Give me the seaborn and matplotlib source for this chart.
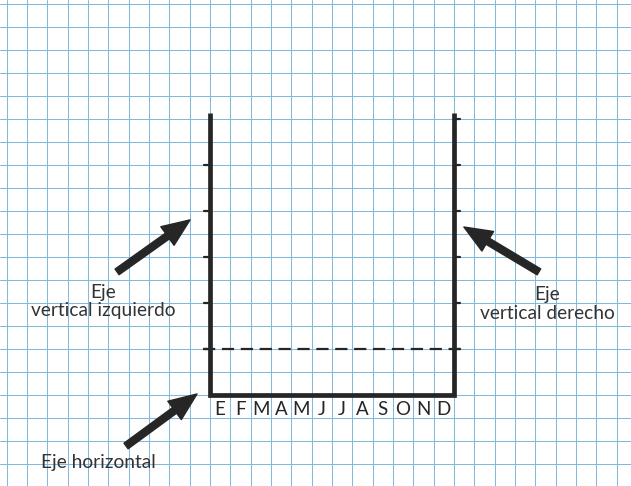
import numpy as np
import pandas as pd
import matplotlib
matplotlib.use('Agg')
import matplotlib.pyplot as plt
import seaborn as sns

# Datos de la plantilla del climograma (en unidades de cuadrícula)
months = ['E', 'F', 'M', 'A', 'M', 'J', 'J', 'A', 'S', 'O', 'N', 'D']
left_ticks = [2, 4, 6, 8, 10]
right_ticks = [2, 4, 6, 8, 10, 12]
axis_top = 12.25
dashed_level = 2

label_texts = ['Eje\nvertical izquierdo', 'Eje horizontal', 'Eje\nvertical derecho']
label_pos = [(-5.26, 4.05), (-5.51, -2.96), (16.58, 3.95)]
arrow_tails = [(-4.57, 5.35), (-4.13, -2.22), (16.18, 5.35)]
arrow_tips = [(-0.98, 7.61), (-0.64, 0.04), (12.49, 7.30)]

sns.set_style('white')
plt.rcParams['font.family'] = ['Lato', 'DejaVu Sans']

fig = plt.figure(figsize=(6.31, 4.86), dpi=100)
ax = fig.add_axes([0, 0, 1, 1])

# papel cuadriculado
ax.set_xlim(-10.33, 20.71)
ax.set_ylim(-3.96, 17.17)
ax.set_xticks(np.arange(-10, 21))
ax.set_yticks(np.arange(-3, 18))
ax.grid(True, color='#84b9dc', lw=0.75)
ax.set_axisbelow(True)
ax.tick_params(length=0, labelbottom=False, labelleft=False)
for s in ax.spines.values():
    s.set_visible(False)

ink = '#262626'

# ejes del climograma
n = len(months)
ax.plot([0, 0, n, n], [axis_top, 0, 0, axis_top], color=ink, lw=3.4,
        solid_joinstyle='miter', solid_capstyle='butt', zorder=3)
for t in left_ticks:
    ax.plot([-0.3, 0], [t, t], color=ink, lw=1.6, zorder=3)
for t in right_ticks:
    ax.plot([n, n + 0.3], [t, t], color=ink, lw=1.6, zorder=3)

# línea discontinua
dash = pd.DataFrame({'x': [-0.34, n + 0.4], 'y': [dashed_level, dashed_level]})
sns.lineplot(data=dash, x='x', y='y', ax=ax, color=ink, lw=1.6,
             dashes=False, zorder=3)
ax.lines[-1].set_dashes([5.5, 3])

# meses
for i, m in enumerate(months):
    ax.text(i + 0.5, -0.65, m, ha='center', va='center', fontsize=13.5, color=ink)

# etiquetas y flechas
for txt, pos in zip(label_texts, label_pos):
    ax.text(pos[0], pos[1], txt, ha='center', va='center', fontsize=13.8,
            color='#333333', linespacing=1.1)
for tail, tip in zip(arrow_tails, arrow_tips):
    ax.annotate('', xy=tip, xytext=tail,
                arrowprops=dict(arrowstyle='simple,head_length=1.0,head_width=0.82,tail_width=0.25',
                                mutation_scale=20, color=ink, shrinkA=0, shrinkB=0))

ax.set_xlabel('')
ax.set_ylabel('')
fig.savefig('out.png', dpi=100)
